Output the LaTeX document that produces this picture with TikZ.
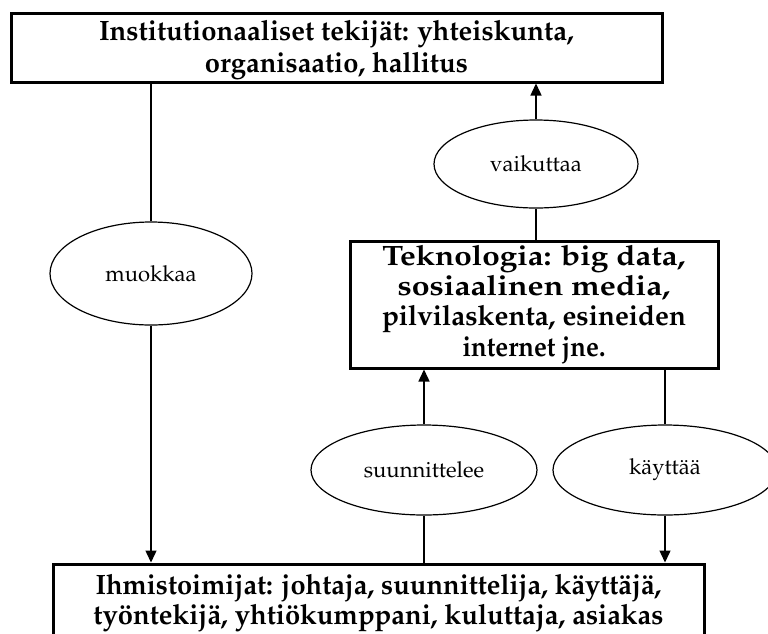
\documentclass[tikz,border=0pt]{standalone}
\usepackage[T1]{fontenc}
\usepackage{mathpazo}
\usepackage{graphicx}
\usetikzlibrary{shapes.geometric,arrows.meta}

% one line of box text, set to a given width at its natural height
\newcommand{\fitline}[2]{\resizebox{#1}{\height}{#2}}
% struts fixing the height of a first line and the depth of a last line
\newcommand{\tophold}[1]{\rule{0pt}{#1}}
\newcommand{\bothold}[1]{\rule[-#1]{0pt}{#1}}

\tikzset{
  actorbox/.style={draw, line width=3pt, inner sep=0pt, align=center},
  verbel/.style={draw, ellipse, line width=1.2pt, inner sep=0pt,
    font=\fontsize{22}{26}\selectfont},
  conn/.style={line width=1.4pt},
  arr/.style={conn, -{Triangle[length=12pt,width=11pt]}},
}

\begin{document}
\begin{tikzpicture}[x=1pt,y=-1pt]
  \useasboundingbox (0,0) rectangle (768,633);
  \fill[white] (0,0) rectangle (768,633);
  \clip (0,0) rectangle (768,633);

  % the three actor boxes
  \node[actorbox, minimum width=651pt, minimum height=69pt,
        font=\bfseries\fontsize{28}{32.7}\selectfont] (inst) at (336.5,47.5)
    {\tophold{26pt}\fitline{475pt}{Institutionaaliset tekijät: yhteiskunta,}\\
     \fitline{263pt}{organisaatio, hallitus}\bothold{8.3pt}};
  \node[actorbox, minimum width=368pt, minimum height=127pt,
        font=\bfseries\fontsize{28}{30.4}\selectfont] (tech) at (534,304.5)
    {\tophold{23pt}\fitline{303pt}{Teknologia: big data,}\\
     \fitline{273pt}{sosiaalinen media,}\\
     \fitline{304pt}{pilvilaskenta, esineiden}\\
     \fitline{143pt}{internet jne.}\bothold{10.8pt}};
  \node[actorbox, minimum width=651pt, minimum height=76pt,
        font=\bfseries\fontsize{28}{30}\selectfont] (hum) at (378.5,602)
    {\tophold{23pt}\fitline{566pt}{Ihmistoimijat: johtaja, suunnittelija, käyttäjä,}\\
     \fitline{570pt}{työntekijä, yhtiökumppani, kuluttaja, asiakas}\bothold{9pt}};

  % relation ellipses
  \node[verbel, minimum width=202pt, minimum height=103pt] (muok) at (151,273.5) {muokkaa};
  \node[verbel, minimum width=204pt, minimum height=88pt] (vaik) at (536,164) {vaikuttaa};
  \node[verbel, minimum width=226pt, minimum height=90pt] (suun) at (424,470) {suunnittelee};
  \node[verbel, minimum width=224pt, minimum height=90pt] (kayt) at (665,470) {käyttää};

  % connectors
  \draw[conn] (muok.north |- inst.south) -- (muok.north);
  \draw[arr] (muok.south) -- (muok.south |- hum.north);
  \draw[conn] (tech.north -| vaik.south) -- (vaik.south);
  \draw[arr] (vaik.north) -- (vaik.north |- inst.south);
  \draw[conn] (suun.south |- hum.north) -- (suun.south);
  \draw[arr] (suun.north) -- (suun.north |- tech.south);
  \draw[conn] (kayt.north |- tech.south) -- (kayt.north);
  \draw[arr] (kayt.south) -- (kayt.south |- hum.north);
\end{tikzpicture}
\end{document}
